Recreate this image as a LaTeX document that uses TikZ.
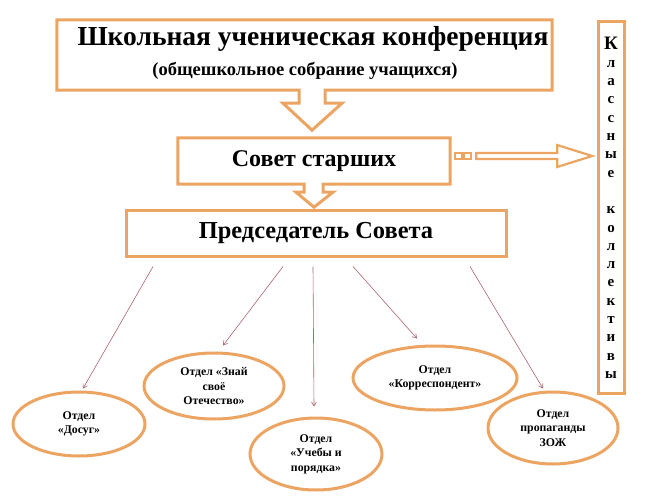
\documentclass[tikz,border=0pt]{standalone}
\usepackage{fontspec}
\setmainfont{Liberation Serif}
\usetikzlibrary{arrows.meta, shapes.geometric, calc}
\definecolor{frameor}{RGB}{236,164,98}
\definecolor{linkred}{RGB}{170,100,112}

\begin{document}
\begin{tikzpicture}[x=1pt, y=-1pt,
  every node/.style={font=\bfseries, align=center, inner sep=0pt},
  frame/.style={draw=frameor, line width=3pt, line join=miter},
  box/.style={frame, rectangle},
  dept/.style={frame, ellipse, font=\fontsize{11.8}{14.5}\selectfont\bfseries},
  thinarr/.style={-{Straight Barb[length=4pt, width=5pt]}, draw=linkred, line width=0.6pt},
  blockarr/.style={draw=frameor, line width=2.2pt, line join=miter, fill=white}
]
  \useasboundingbox (0,0) rectangle (653,503);

  % --- Conference (callout with arrow down) ---
  \node[minimum width=495pt, minimum height=70pt] (conf) at (304.5,55) {};
  \node[font=\fontsize{27.5}{30}\selectfont\bfseries] (conftitle) at (313,39) {Школьная ученическая конференция};
  \node[font=\fontsize{18.5}{20}\selectfont\bfseries] (confsub) at (305,71) {(общешкольное собрание учащихся)};
  \draw[frame] ([xshift=-5.5pt]conf.south) -- (conf.south west) -- (conf.north west)
    -- (conf.north east) -- (conf.south east) -- ([xshift=20.5pt]conf.south)
    -- ++(0,13) -- ++(17,0) -- ++(-30,27) -- ++(-29,-27) -- ++(16,0) -- cycle;

  % --- Council of seniors ---
  \node[minimum width=272pt, minimum height=46pt, font=\fontsize{24}{28}\selectfont\bfseries] (council) at (314,161) {Совет старших};
  \draw[frame] ([xshift=-10pt]council.south) -- (council.south west) -- (council.north west)
    -- (council.north east) -- (council.south east) -- ([xshift=9pt]council.south)
    -- ++(0,8) -- ++(10,0) -- ++(-19,15) -- ++(-18,-15) -- ++(8,0) -- cycle;

  % --- Chairman ---
  \node[box, minimum width=380pt, minimum height=46pt, font=\fontsize{24.4}{28}\selectfont\bfseries] (chair) at (316,233) {Председатель Совета};

  % --- Class collectives (vertical) ---
  \node[box, minimum width=26pt, minimum height=371pt, font=\fontsize{15}{18.3}\selectfont\bfseries] (classes) at (611,207.5)
    {{\fontsize{19}{18.3}\selectfont К}\\л\\а\\с\\с\\н\\ы\\е\\\mbox{}\\к\\о\\л\\л\\е\\к\\т\\и\\в\\ы};

  % council -> classes, double outline arrow
  \draw[blockarr] ([xshift=5pt,yshift=8pt]council.east) rectangle ++(7,6);
  \draw[blockarr] ([xshift=14pt,yshift=8pt]council.east) rectangle ++(7,6);
  \draw[blockarr] ([xshift=26pt,yshift=8pt]council.east) -- ++(81,0) -- ++(0,-8)
    -- ++(35,11) -- ++(-35,11) -- ++(0,-8) -- ++(-81,0) -- cycle;

  % --- Departments ---
  \node[dept, minimum width=132pt, minimum height=64pt] (dosug) at (79,424) {Отдел\\«Досуг»};
  \node[dept, minimum width=140pt, minimum height=66pt] (znai) at (214,386) {Отдел «Знай\\своё\\Отечество»};
  \node[dept, minimum width=132pt, minimum height=72pt] (ucheba) at (316,454) {Отдел\\«Учебы и\\порядка»};
  \node[dept, minimum width=164pt, minimum height=64pt] (corr) at (435,378) {Отдел\\«Корреспондент»};
  \node[dept, minimum width=130pt, minimum height=72pt] (zozh) at (553,428) {Отдел\\пропаганды\\ЗОЖ};

  % chair -> departments
  \draw[thinarr] ([xshift=-163pt,yshift=-9pt]chair.south) -- ([xshift=4pt,yshift=2pt]dosug.north);
  \draw[thinarr] ([xshift=-33pt,yshift=-9pt]chair.south) -- ([xshift=9pt,yshift=6pt]znai.north);
  \draw[thinarr] ([xshift=-3pt,yshift=-9pt]chair.south) -- ([xshift=-2pt,yshift=10pt]ucheba.north);
  \draw[thinarr] ([xshift=37pt,yshift=-9pt]chair.south) -- ([xshift=-18pt,yshift=6pt]corr.north);
  \draw[thinarr] ([xshift=154pt,yshift=-9pt]chair.south) -- ([xshift=-10pt,yshift=2pt]zozh.north);

\end{tikzpicture}
\end{document}
